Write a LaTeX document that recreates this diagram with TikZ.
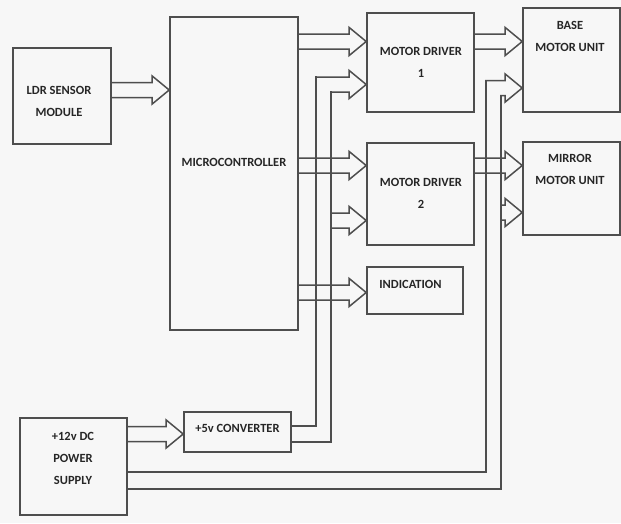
\documentclass[tikz,border=0pt]{standalone}
\usepackage{fontspec}
\setmainfont{Carlito}
\usepackage{tikz}
\usetikzlibrary{calc}

\definecolor{linegray}{HTML}{4E4E4E}
\definecolor{paper}{HTML}{F7F7F7}

\newcommand{\headlen}{17}
\newcommand{\headw}{14}
\newcommand{\busw}{7.5}

% hollow two-line bus arrow: #1/#2 where the upper/lower line starts, #3 the tip
\newcommand{\busarrow}[3]{%
  \coordinate (tip) at #3;
  \coordinate (tipT) at ($(tip)+(0,-\busw)$);
  \coordinate (tipB) at ($(tip)+(0,\busw)$);
  \draw[bus] (#1 |- tipT) -- ($(tipT)+(-\headlen,0)$) -- ($(tip)+(-\headlen,-\headw)$)
    -- (tip) -- ($(tip)+(-\headlen,\headw)$) -- ($(tipB)+(-\headlen,0)$) -- (#2 |- tipB);
}

\begin{document}
\begin{tikzpicture}[x=1pt, y=-1pt,
    block/.style = {
      draw=linegray, line width=1.6pt, inner sep=0pt
    },
    bus/.style = {draw=linegray, line width=1.5pt, line cap=rect},
    tag/.style = {
      font=\bfseries\fontsize{12.5}{22}\selectfont,
      text=black!85, align=center, inner sep=0pt
    }
  ]

  \fill[paper] (0,0) rectangle (621,523);
  \useasboundingbox (0,0) rectangle (621,523);

  \node[block, minimum width=98pt,  minimum height=96pt]  (ldr)    at ( 62,  96)   {};
  \node[block, minimum width=128pt, minimum height=313pt] (micro)  at (234, 173.5) {};
  \node[block, minimum width=107pt, minimum height=99pt]  (md1)    at (420.5, 62.5){};
  \node[block, minimum width=107pt, minimum height=102pt] (md2)    at (420.5,194)  {};
  \node[block, minimum width=97pt,  minimum height=104pt] (base)   at (571.5, 60)  {};
  \node[block, minimum width=97pt,  minimum height=93pt]  (mirror) at (571.5,188.5){};
  \node[block, minimum width=96pt,  minimum height=47pt]  (ind)    at (415, 290.5) {};
  \node[block, minimum width=107pt, minimum height=97pt]  (ps)     at ( 73.5,466.5){};
  \node[block, minimum width=107pt, minimum height=40pt]  (conv)   at (237.5,432)  {};

  \node[tag] (ldrtext)    at ( 59, 101)   {LDR SENSOR\\MODULE};
  \node[tag] (microtext)  at (234, 162)   {MICROCONTROLLER};
  \node[tag] (md1text)    at (421,  62.5) {MOTOR DRIVER\\1};
  \node[tag] (md2text)    at (421, 193.5) {MOTOR DRIVER\\2};
  \node[tag] (basetext)   at (570,  36.5) {BASE\\MOTOR UNIT};
  \node[tag] (mirrortext) at (570, 169)   {MIRROR\\MOTOR UNIT};
  \node[tag] (indtext)    at (410.5,284)  {INDICATION};
  \node[tag] (pstext)     at ( 73, 458)   {+12v DC\\POWER\\SUPPLY};
  \node[tag] (convtext)   at (237.5,428)  {+5v CONVERTER};

  \coordinate (convA)  at ($(conv.east)+(0,-6)$);
  \coordinate (convB)  at ($(conv.east)+(0,10)$);
  \coordinate (trunkA) at ($(convA)+(24,0)$);
  \coordinate (trunkB) at ($(convB)+(39,0)$);
  \coordinate (psA)    at ($(ps.east)+(0,5.5)$);
  \coordinate (psB)    at ($(ps.east)+(0,22.5)$);
  \coordinate (trunkC) at ($(md1.east)+(11,0)$);
  \coordinate (trunkD) at ($(md1.east)+(26,0)$);

  % supply trunks
  \draw[bus] (convA) -- (trunkA) -- ($(trunkA |- md1.west)+(0,14.5)$);
  \draw[bus] (convB) -- (trunkB) -- ($(trunkB |- md1.west)+(0,29.5)$);
  \draw[bus] (psA) -- (trunkC |- psA) -- ($(trunkC |- base.west)+(0,20.5)$);
  \draw[bus] (psB) -- (trunkD |- psB) -- ($(trunkD |- base.west)+(0,35.5)$);

  \busarrow{ldr.east}{ldr.east}{($(micro.west |- ldr.east)+(0,-6)$)}
  \busarrow{micro.east}{micro.east}{($(md1.west)+(0,-21)$)}
  \busarrow{trunkA}{trunkB}{($(md1.west)+(0,22)$)}
  \busarrow{micro.east}{micro.east}{($(md2.west)+(0,-28.5)$)}
  \busarrow{trunkB}{trunkB}{($(md2.west)+(0,26.5)$)}
  \busarrow{micro.east}{micro.east}{($(ind.west)+(0,2)$)}
  \busarrow{md1.east}{md1.east}{($(base.west)+(0,-18.5)$)}
  \busarrow{trunkC}{trunkD}{($(base.west)+(0,28)$)}
  \busarrow{md2.east}{md2.east}{($(mirror.west)+(0,-23)$)}
  \busarrow{trunkD}{trunkD}{($(mirror.west)+(0,24)$)}
  \busarrow{ps.east}{ps.east}{($(conv.west)+(0,2)$)}

\end{tikzpicture}
\end{document}
